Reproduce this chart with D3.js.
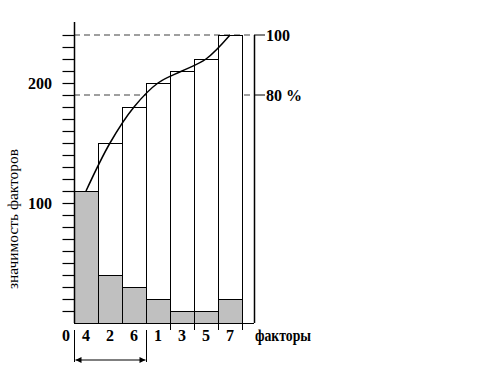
<!DOCTYPE html>
<html>
<head>
<meta charset="utf-8">
<script src="https://cdn.jsdelivr.net/npm/d3@7"></script>
<style>
  html, body { margin: 0; padding: 0; background: #fff; }
  svg { display: block; }
  text { font-family: "Liberation Serif", "Times New Roman", serif; }
</style>
</head>
<body>
<svg id="chart" width="494" height="367"></svg>
<script>
// ---- data ----
const categories = ["4", "2", "6", "1", "3", "5", "7"];
const values = [110, 40, 30, 20, 10, 10, 20];
const yTickLabels = [100, 200];
const refLines = [
  { value: 240, label: "100" },
  { value: 190, label: "80 %" }
];
const xAxisTitle = "факторы";
const yAxisTitle = "значимость факторов";
const groupStart = "4", groupEnd = "6";

// ---- layout ----
const svg = d3.select("#chart");
const x = d3.scaleBand().domain(categories).range([74, 242]).paddingInner(0).paddingOuter(0);
const y = d3.scaleLinear().domain([0, 240]).range([323, 35]);
const cumulative = Array.from(d3.cumsum(values));
const rightX = 254;

// reference (dashed) lines
refLines.forEach(r => {
  svg.append("line")
    .attr("x1", 74).attr("x2", rightX)
    .attr("y1", y(r.value)).attr("y2", y(r.value))
    .attr("stroke", "#808080").attr("stroke-width", 1.3)
    .attr("stroke-dasharray", "6,4");
  svg.append("line")
    .attr("x1", rightX).attr("x2", rightX + 11)
    .attr("y1", y(r.value)).attr("y2", y(r.value))
    .attr("stroke", "#000").attr("stroke-width", 1);
  svg.append("text")
    .attr("x", rightX + 12).attr("y", y(r.value) + 5.5)
    .attr("font-size", 16).attr("font-weight", "bold")
    .text(r.label);
});

// cumulative (white) bars
svg.append("g").selectAll("rect.cum")
  .data(categories)
  .join("rect")
  .attr("x", d => x(d) + 0.5)
  .attr("width", x.bandwidth())
  .attr("y", (d, i) => y(cumulative[i]) + 0.5)
  .attr("height", (d, i) => y(0) - y(cumulative[i]))
  .attr("fill", "#fff").attr("stroke", "#000").attr("stroke-width", 1);

// value (gray) bars
svg.append("g").selectAll("rect.val")
  .data(categories)
  .join("rect")
  .attr("x", d => x(d) + 0.5)
  .attr("width", x.bandwidth())
  .attr("y", (d, i) => y(values[i]) + 0.5)
  .attr("height", (d, i) => y(0) - y(values[i]))
  .attr("fill", "#c0c0c0").attr("stroke", "#000").attr("stroke-width", 1);

// category separators below baseline
svg.append("g").selectAll("line.sep")
  .data(categories.slice(3))
  .join("line")
  .attr("x1", d => x(d) + x.bandwidth() + 0.5)
  .attr("x2", d => x(d) + x.bandwidth() + 0.5)
  .attr("y1", y(0)).attr("y2", y(0) + 7)
  .attr("stroke", "#000");

// Pareto curve
const line = d3.line()
  .x((d, i) => x(categories[i]) + x.bandwidth() / 2)
  .y(d => y(d))
  .curve(d3.curveCatmullRom.alpha(0.5));
svg.append("path")
  .datum(cumulative)
  .attr("d", line)
  .attr("fill", "none").attr("stroke", "#000").attr("stroke-width", 1.5);

// left axis with minor ticks
const yAxis = d3.axisLeft(y)
  .tickValues(d3.range(10, 241, 10))
  .tickSize(12)
  .tickFormat("");
const ga = svg.append("g").attr("transform", "translate(74.5,0)").call(yAxis);
ga.select(".domain").remove();
ga.selectAll(".tick line").attr("stroke", "#000").attr("stroke-width", 1.2);
svg.append("line")
  .attr("x1", 74.5).attr("x2", 74.5).attr("y1", 22).attr("y2", y(0))
  .attr("stroke", "#000").attr("stroke-width", 1.5);

// y tick labels
svg.append("g").selectAll("text")
  .data(yTickLabels)
  .join("text")
  .attr("x", 52).attr("y", d => y(d) + 5.5)
  .attr("text-anchor", "end")
  .attr("font-size", 16).attr("font-weight", "bold")
  .text(d => d);
svg.append("text")
  .attr("x", 66).attr("y", 341)
  .attr("text-anchor", "middle")
  .attr("font-size", 16).attr("font-weight", "bold")
  .text("0");

// right axis line
svg.append("line")
  .attr("x1", rightX + 0.5).attr("x2", rightX + 0.5)
  .attr("y1", y(240)).attr("y2", y(0))
  .attr("stroke", "#000").attr("stroke-width", 1.5);

// baseline
svg.append("line")
  .attr("x1", 74).attr("x2", rightX)
  .attr("y1", y(0) + 0.5).attr("y2", y(0) + 0.5)
  .attr("stroke", "#000").attr("stroke-width", 1.2);

// category labels
const xAxis = d3.axisBottom(x).tickSize(0).tickPadding(0);
const gx = svg.append("g").attr("transform", `translate(0,${y(0)})`).call(xAxis);
gx.select(".domain").remove();
gx.selectAll("text")
  .attr("y", 18).attr("dy", 0)
  .attr("font-size", 16).attr("font-weight", "bold")
  .attr("font-family", "Liberation Serif, Times New Roman, serif")
  .attr("fill", "#000");

// x title
svg.append("text")
  .attr("x", 255).attr("y", 341)
  .attr("font-size", 16).attr("font-weight", "bold")
  .attr("textLength", 56).attr("lengthAdjust", "spacingAndGlyphs")
  .text(xAxisTitle);

// y title
svg.append("text")
  .attr("transform", "translate(18,219) rotate(-90)")
  .attr("text-anchor", "middle")
  .attr("font-size", 15)
  .attr("textLength", 140).attr("lengthAdjust", "spacingAndGlyphs")
  .text(yAxisTitle);

// group arrow
const defs = svg.append("defs");
defs.append("marker").attr("id", "ah").attr("viewBox", "0 0 10 10")
  .attr("refX", 10).attr("refY", 5)
  .attr("markerWidth", 10).attr("markerHeight", 6)
  .attr("markerUnits", "userSpaceOnUse")
  .attr("orient", "auto-start-reverse")
  .append("path").attr("d", "M0,0 L10,5 L0,10 Z").attr("fill", "#000");
const ax1 = x(groupStart) + 0.5, ax2 = x(groupEnd) + x.bandwidth() + 0.5;
[ax1, ax2].forEach(px => {
  svg.append("line").attr("x1", px).attr("x2", px)
    .attr("y1", 330).attr("y2", 362).attr("stroke", "#000");
});
svg.append("line")
  .attr("x1", ax1 + 1).attr("x2", ax2 - 1)
  .attr("y1", 360).attr("y2", 360)
  .attr("stroke", "#000").attr("stroke-width", 1.2)
  .attr("marker-start", "url(#ah)").attr("marker-end", "url(#ah)");
</script>
</body>
</html>
